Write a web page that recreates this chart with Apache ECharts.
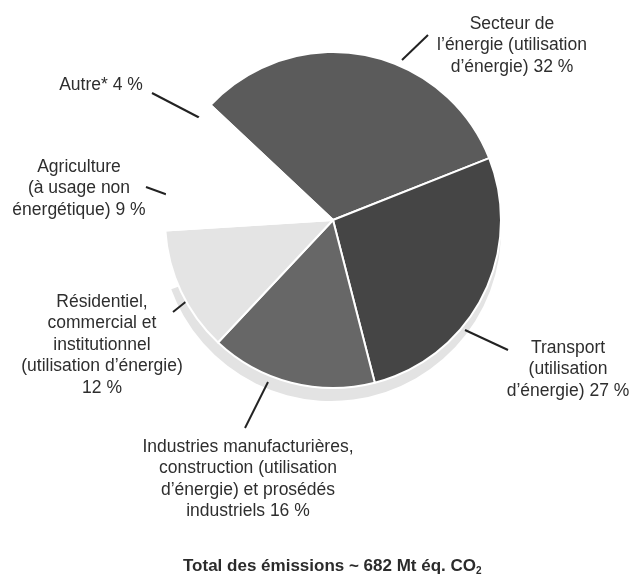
<!DOCTYPE html>
<html>
<head>
<meta charset="utf-8">
<script src="https://cdn.jsdelivr.net/npm/echarts@6/dist/echarts.min.js"></script>
<style>
html,body{margin:0;padding:0;background:#fff;}
#chart{width:632px;height:575px;}
</style>
</head>
<body>
<div id="chart"></div>
<script>
// ---- data ----
var categories = [
  "Secteur de\nl’énergie (utilisation\nd’énergie)",
  "Transport\n(utilisation\nd’énergie)",
  "Industries manufacturières,\nconstruction (utilisation\nd’énergie) et prosédés\nindustriels",
  "Résidentiel,\ncommercial et\ninstitutionnel\n(utilisation d’énergie)\n",
  "Agriculture\n(à usage non\nénergétique)",
  "Autre*"
];
var values = [32, 27, 16, 12, 9, 4];
var totalText = "Total des émissions ~ 682 Mt éq. CO";

// ---- styles / layout (not data) ----
var sliceColors = ["#5b5b5b", "#454545", "#676767", "#e4e4e4", "#ffffff", "#ffffff"];
var labelLayoutCfg = [
  {x: 512, y: 13, line: [[402, 60], [428, 35]]},
  {x: 568, y: 337, line: [[465, 330], [508, 350]]},
  {x: 248, y: 436, line: [[268, 382], [245, 428]]},
  {x: 102, y: 291, line: [[188, 300], [173, 312]]},
  {x: 79, y: 156, line: [[168, 195], [146, 187]]},
  {x: 101, y: 74, line: [[200, 118], [152, 93]]}
];

var chart = echarts.init(document.getElementById('chart'));
var pieData = categories.map(function (c, i) {
  return { name: c, value: values[i], itemStyle: { color: sliceColors[i] } };
});

chart.setOption({
  backgroundColor: '#ffffff',
  animation: false,
  title: {
    text: '{b|' + totalText + '}{s|2}',
    left: 178,
    top: 552,
    textStyle: {
      rich: {
        b: { fontFamily: 'Liberation Sans, Arial, sans-serif', fontSize: 17, fontWeight: 'bold', color: '#2b2b2b' },
        s: { fontFamily: 'Liberation Sans, Arial, sans-serif', fontSize: 10, fontWeight: 'bold', color: '#2b2b2b', padding: [9, 0, 0, 0] }
      }
    }
  },
  series: [
    {
      type: 'pie',
      silent: true,
      z: 1,
      center: [331, 231],
      radius: 170,
      startAngle: 30,
      label: { show: false },
      labelLine: { show: false },
      data: [
        { value: 190, itemStyle: { color: '#e3e3e3' } },
        { value: 170, itemStyle: { color: 'rgba(0,0,0,0)' } }
      ]
    },
    {
      type: 'pie',
      z: 2,
      center: [333, 220],
      radius: 168,
      startAngle: 136.8,
      clockwise: true,
      itemStyle: { borderColor: '#ffffff', borderWidth: 2 },
      label: {
        show: true,
        color: '#2e2e2e',
        fontFamily: 'Liberation Sans, Arial, sans-serif',
        fontSize: 17.5,
        lineHeight: 21.5,
        align: 'center',
        overflow: 'none',
        formatter: function (p) {
          var sep = p.name.charAt(p.name.length - 1) === '\n' ? '' : ' ';
          return p.name + sep + p.value + ' %';
        }
      },
      labelLine: { show: true, lineStyle: { color: '#222', width: 2 } },
      labelLayout: function (p) {
        var L = labelLayoutCfg[p.dataIndex];
        return { x: L.x, y: L.y, align: 'center', verticalAlign: 'top', labelLinePoints: L.line };
      },
      data: pieData
    }
  ]
});
</script>
</body>
</html>
